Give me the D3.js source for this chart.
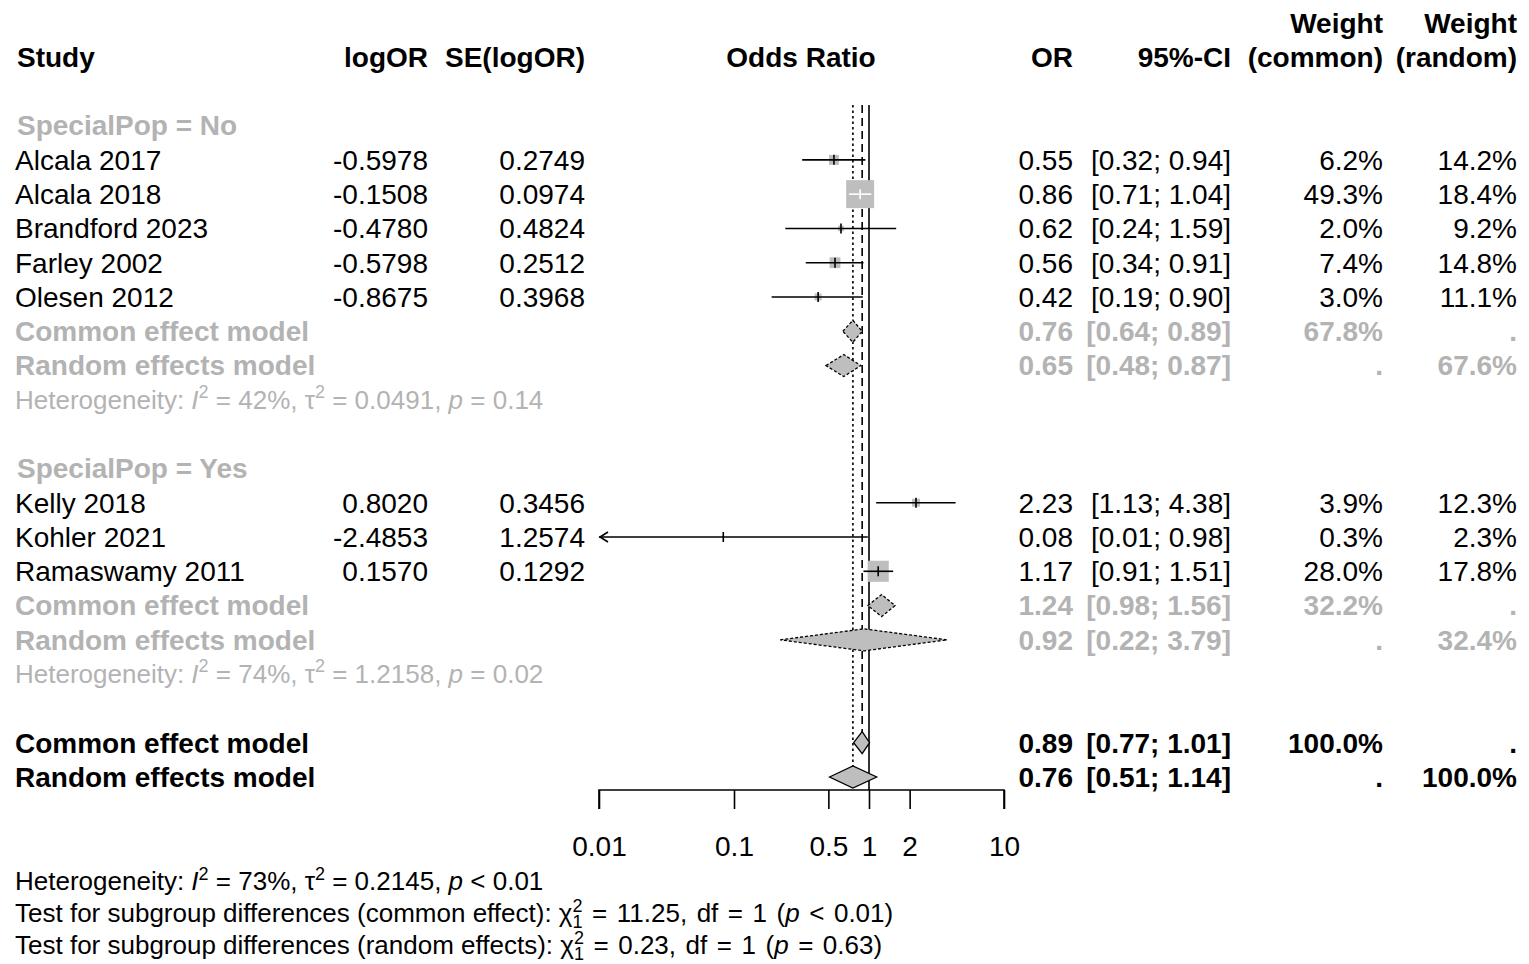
<!DOCTYPE html>
<html>
<head>
<meta charset="utf-8">
<script src="https://cdn.jsdelivr.net/npm/d3@7"></script>
<style>
  body { margin: 0; background: #fff; }
  svg text { font-family: "Liberation Sans", Arial, sans-serif; }
</style>
</head>
<body>
<div id="forest"></div>
<script>
// Data studi
const studyNames = ["Alcala 2017", "Alcala 2018", "Brandford 2023", "Farley 2002", "Olesen 2012",
                    "Kelly 2018", "Kohler 2021", "Ramaswamy 2011"];
const studyGroup = ["No", "No", "No", "No", "No", "Yes", "Yes", "Yes"];
const logOR = [-0.5978, -0.1508, -0.4780, -0.5798, -0.8675, 0.8020, -2.4853, 0.1570];
const seLogOR = [0.2749, 0.0974, 0.4824, 0.2512, 0.3968, 0.3456, 1.2574, 0.1292];
const orValue = [0.55, 0.86, 0.62, 0.56, 0.42, 2.23, 0.08, 1.17];
const ciLower = [0.32, 0.71, 0.24, 0.34, 0.19, 1.13, 0.01, 0.91];
const ciUpper = [0.94, 1.04, 1.59, 0.91, 0.90, 4.38, 0.98, 1.51];
const weightCommon = [6.2, 49.3, 2.0, 7.4, 3.0, 3.9, 0.3, 28.0];
const weightRandom = [14.2, 18.4, 9.2, 14.8, 11.1, 12.3, 2.3, 17.8];

// Ringkasan model (subgroup + overall)
const summaryLabels = ["Common effect model", "Random effects model"];
const summaryGroup = ["No", "No", "Yes", "Yes", "All", "All"];
const summaryType = ["common", "random", "common", "random", "common", "random"];
const summaryOR = [0.76, 0.65, 1.24, 0.92, 0.89, 0.76];
const summaryLower = [0.64, 0.48, 0.98, 0.22, 0.77, 0.51];
const summaryUpper = [0.89, 0.87, 1.56, 3.79, 1.01, 1.14];
const summaryWeight = [67.8, 67.6, 32.2, 32.4, 100.0, 100.0];

const groups = ["No", "Yes"];
const hetI2 = ["42%", "74%"];
const hetTau2 = ["0.0491", "1.2158"];
const hetP = ["= 0.14", "= 0.02"];

const axisTicks = [0.01, 0.1, 0.5, 1, 2, 10];

const grayText = "#b3b3b3";
const boxFill = "#bebebe";

const svg = d3.select('#forest')
    .append('svg')
    .attr('width', 1529)
    .attr('height', 964);

const xScale = d3.scaleLog().domain([0.01, 10]).range([599, 1004]);
const rowY = d3.scaleLinear().domain([0, 21]).range([57, 777]);
const boxSize = d3.scaleSqrt().domain([0, 49.3]).range([0, 28]);

const FS = 28;

// kolom
const col = { study: 15, logOR: 428, se: 585, or: 1073, ci: 1231, wc: 1383, wr: 1517 };

function addText(x, y, txt, opts = {}) {
    return svg.append('text')
        .attr('x', x)
        .attr('y', y)
        .attr('dy', '0.35em')
        .attr('text-anchor', opts.anchor || 'start')
        .style('font-size', (opts.size || FS) + 'px')
        .style('font-weight', opts.bold ? 'bold' : 'normal')
        .style('fill', opts.color || '#000')
        .text(txt);
}

// teks dengan superscript / subscript
function addRich(x, y, segs, opts = {}) {
    const size = opts.size || FS;
    const up = opts.up || 11, down = opts.down || 9;
    const t = svg.append('text')
        .attr('x', x)
        .attr('y', y + size * 0.35)
        .style('font-size', size + 'px')
        .style('fill', opts.color || '#000');
    let shift = 0;
    const small = Math.round(size * 0.68);
    segs.forEach(s => {
        const sp = t.append('tspan');
        if (s.sup) {
            sp.attr('dy', -up - shift).style('font-size', small + 'px');
            shift = -up;
        } else if (s.sub) {
            sp.attr('dy', down - shift).style('font-size', small + 'px');
            if (s.back) sp.attr('dx', -s.back);
            shift = down;
        } else {
            if (shift !== 0) sp.attr('dy', -shift);
            shift = 0;
        }
        if (s.i) sp.style('font-style', 'italic');
        if (s.ws) sp.style('word-spacing', s.ws + 'px');
        sp.text(s.t);
    });
    return t;
}

// Header
addText(17, rowY(0), 'Study', { bold: true });
addText(col.logOR, rowY(0), 'logOR', { bold: true, anchor: 'end' });
addText(col.se, rowY(0), 'SE(logOR)', { bold: true, anchor: 'end' });
addText(801, rowY(0), 'Odds Ratio', { bold: true, anchor: 'middle' });
addText(col.or, rowY(0), 'OR', { bold: true, anchor: 'end' });
addText(col.ci, rowY(0), '95%-CI', { bold: true, anchor: 'end' });
addText(col.wc, rowY(-1), 'Weight', { bold: true, anchor: 'end' });
addText(col.wc, rowY(0), '(common)', { bold: true, anchor: 'end' });
addText(col.wr, rowY(-1), 'Weight', { bold: true, anchor: 'end' });
addText(col.wr, rowY(0), '(random)', { bold: true, anchor: 'end' });

// posisi baris
const groupStartRow = { No: 2, Yes: 12 };
const studyRows = [];
const summaryRows = [];
const hetRows = [];
groups.forEach(g => {
    let r = groupStartRow[g] + 1;
    studyNames.forEach((s, i) => { if (studyGroup[i] === g) studyRows[i] = r++; });
    summaryGroup.forEach((sg, j) => { if (sg === g) summaryRows[j] = r++; });
    hetRows.push(r);
});
summaryRows[4] = 20;
summaryRows[5] = 21;

const lineTop = 105;
const axisY = 790;

// garis referensi
svg.append('line')
    .attr('x1', xScale(1)).attr('x2', xScale(1))
    .attr('y1', lineTop).attr('y2', axisY)
    .style('stroke', '#000').style('stroke-width', 1.6);
svg.append('line')
    .attr('x1', xScale(summaryOR[4])).attr('x2', xScale(summaryOR[4]))
    .attr('y1', lineTop).attr('y2', rowY(summaryRows[4]))
    .style('stroke', '#000').style('stroke-width', 1.6)
    .style('stroke-dasharray', '8,5');
svg.append('line')
    .attr('x1', xScale(summaryOR[5])).attr('x2', xScale(summaryOR[5]))
    .attr('y1', lineTop).attr('y2', rowY(summaryRows[5]))
    .style('stroke', '#000').style('stroke-width', 1.6)
    .style('stroke-dasharray', '2.5,3');

// label group
groups.forEach(g => {
    addText(17, rowY(groupStartRow[g]), 'SpecialPop = ' + g, { bold: true, color: grayText });
});

// baris studi
studyNames.forEach((name, i) => {
    const y = rowY(studyRows[i]);
    addText(col.study, y, name);
    addText(col.logOR, y, logOR[i].toFixed(4), { anchor: 'end' });
    addText(col.se, y, seLogOR[i].toFixed(4), { anchor: 'end' });
    addText(col.or, y, orValue[i].toFixed(2), { anchor: 'end' });
    addText(col.ci, y, `[${ciLower[i].toFixed(2)}; ${ciUpper[i].toFixed(2)}]`, { anchor: 'end' });
    addText(col.wc, y, weightCommon[i].toFixed(1) + '%', { anchor: 'end' });
    addText(col.wr, y, weightRandom[i].toFixed(1) + '%', { anchor: 'end' });
});

// kotak
svg.selectAll('.box')
    .data(studyNames.map((d, i) => i))
    .enter()
    .append('rect')
    .attr('class', 'box')
    .attr('x', i => xScale(Math.exp(logOR[i])) - boxSize(weightCommon[i]) / 2)
    .attr('y', i => rowY(studyRows[i]) - boxSize(weightCommon[i]) / 2)
    .attr('width', i => boxSize(weightCommon[i]))
    .attr('height', i => boxSize(weightCommon[i]))
    .style('fill', boxFill);

// garis CI
studyNames.forEach((name, i) => {
    const y = rowY(studyRows[i]);
    const cx = xScale(Math.exp(logOR[i]));
    const half = boxSize(weightCommon[i]) / 2;
    const lo = Math.max(ciLower[i], 0.01);
    const x1 = xScale(lo), x2 = xScale(ciUpper[i]);
    const inside = x1 >= cx - half && x2 <= cx + half;
    const c = inside ? '#fff' : '#000';
    svg.append('line')
        .attr('x1', x1).attr('x2', x2).attr('y1', y).attr('y2', y)
        .style('stroke', c).style('stroke-width', 1.6);
    svg.append('line')
        .attr('x1', cx).attr('x2', cx).attr('y1', y - 5).attr('y2', y + 5)
        .style('stroke', c).style('stroke-width', 1.6);
    if (ciLower[i] <= 0.01) {
        svg.append('path')
            .attr('d', `M${x1 + 9},${y - 5}L${x1 + 1},${y}L${x1 + 9},${y + 5}`)
            .style('fill', 'none').style('stroke', '#000').style('stroke-width', 1.6);
    }
});

// ringkasan
summaryLabels.concat(summaryLabels, summaryLabels).forEach((lab, j) => {
    const y = rowY(summaryRows[j]);
    const isGroup = summaryGroup[j] !== 'All';
    const color = isGroup ? grayText : '#000';
    addText(col.study, y, lab, { bold: true, color });
    addText(col.or, y, summaryOR[j].toFixed(2), { bold: true, color, anchor: 'end' });
    addText(col.ci, y, `[${summaryLower[j].toFixed(2)}; ${summaryUpper[j].toFixed(2)}]`,
        { bold: true, color, anchor: 'end' });
    const w = summaryWeight[j].toFixed(1) + '%';
    if (summaryType[j] === 'common') {
        addText(col.wc, y, w, { bold: true, color, anchor: 'end' });
        addText(col.wr, y, '.', { bold: true, color, anchor: 'end' });
    } else {
        addText(col.wc, y, '.', { bold: true, color, anchor: 'end' });
        addText(col.wr, y, w, { bold: true, color, anchor: 'end' });
    }
    const xl = xScale(summaryLower[j]), xr = xScale(summaryUpper[j]), xm = xScale(summaryOR[j]);
    svg.append('path')
        .attr('d', `M${xl},${y}L${xm},${y - 11}L${xr},${y}L${xm},${y + 11}Z`)
        .style('fill', boxFill)
        .style('stroke', '#000')
        .style('stroke-width', 1.3)
        .style('stroke-dasharray', isGroup ? '3,2' : null);
});

// heterogeneity per group
groups.forEach((g, k) => {
    addRich(15, rowY(hetRows[k]), [
        { t: 'Heterogeneity: ' }, { t: 'I', i: true }, { t: '2', sup: true },
        { t: ` = ${hetI2[k]}, τ` }, { t: '2', sup: true },
        { t: ` = ${hetTau2[k]}, ` }, { t: 'p', i: true }, { t: ' ' + hetP[k] }
    ], { color: grayText, size: 26 });
});

// sumbu x
const xAxis = svg.append('g')
    .attr('transform', `translate(0,${axisY})`)
    .call(d3.axisBottom(xScale).tickValues(axisTicks).tickSize(19)
        .tickFormat(d => String(d)).tickPadding(27));
xAxis.select('.domain').attr('d', `M${xScale(0.01)},19V0H${xScale(10)}V19`)
    .style('stroke-width', 1.6);
xAxis.selectAll('.tick line').style('stroke-width', 1.6);
xAxis.selectAll('.tick text')
    .style('font-size', FS + 'px')
    .style('font-family', '"Liberation Sans", Arial, sans-serif');

// teks bawah
const foot = [
    [{ t: 'Heterogeneity: ' }, { t: 'I', i: true }, { t: '2', sup: true },
     { t: ' = 73%, τ' }, { t: '2', sup: true }, { t: ' = 0.2145, ' }, { t: 'p', i: true }, { t: ' < 0.01' }],
    [{ t: 'Test for subgroup differences (common effect): χ' }, { t: '2', sup: true },
     { t: '1', sub: true, back: 10 }, { t: ' = 11.25, df = 1 (', ws: 2.3 }, { t: 'p', i: true }, { t: ' < 0.01)', ws: 2.3 }],
    [{ t: 'Test for subgroup differences (random effects): χ' }, { t: '2', sup: true },
     { t: '1', sub: true, back: 10 }, { t: ' = 0.23, df = 1 (', ws: 2.3 }, { t: 'p', i: true }, { t: ' = 0.63)', ws: 2.3 }]
];
foot.forEach((segs, k) => addRich(15, 881 + k * 32, segs, { size: 26, up: 10, down: 6 }));
</script>
</body>
</html>
